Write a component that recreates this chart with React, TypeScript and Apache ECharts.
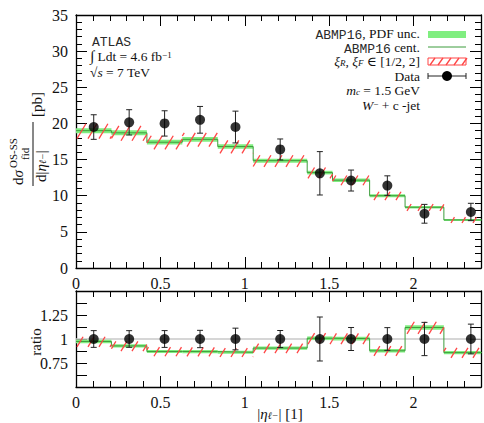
import React, { useEffect, useRef } from 'react';
import * as echarts from 'echarts';

// ---------- data ----------
const binEdges = [0, 0.21, 0.42, 0.63, 0.84, 1.05, 1.37, 1.52, 1.74, 1.95, 2.18, 2.5];
const dataValues = [19.5, 20.15, 20.0, 20.5, 19.5, 16.4, 13.1, 12.1, 11.4, 7.5, 7.75];
const dataErrors = [1.7, 1.75, 1.75, 1.85, 2.2, 1.45, 3.0, 1.45, 1.35, 1.3, 1.2];
const theoryCentral = [19.0, 18.7, 17.4, 17.8, 16.8, 14.85, 13.2, 12.15, 10.0, 8.4, 6.65];
const pdfUnc = [0.35, 0.35, 0.33, 0.33, 0.32, 0.28, 0.25, 0.24, 0.2, 0.17, 0.14];
const scaleUp = [0.95, 0.95, 0.9, 0.9, 0.85, 0.75, 0.7, 0.65, 0.55, 0.45, 0.38];
const scaleDown = [1.1, 1.1, 1.0, 1.0, 0.95, 0.85, 0.8, 0.7, 0.6, 0.5, 0.42];
const xTickLabels = ['0', '0.5', '1', '1.5', '2'];
const yTickLabels = ['0', '5', '10', '15', '20', '25', '30', '35'];
const ratioTickLabels = ['0.75', '1', '1.25'];

const SERIF = '"Liberation Serif", "DejaVu Serif", serif';
const MONO = '"Liberation Mono", "DejaVu Sans Mono", monospace';
const GREEN = '#80ee80';
const DGREEN = '#3c9c3c';
const RED = '#ff4545';

const fmt = (v: number) => String(Math.round(v * 1000) / 1000);

const bandRender = (fill: string) => (params: any, api: any) => {
  const cs = params.coordSys;
  const a = api.coord([api.value(0), api.value(3)]);
  const b = api.coord([api.value(1), api.value(2)]);
  const left = Math.max(a[0], cs.x);
  const right = Math.min(b[0], cs.x + cs.width);
  if (right <= left) return null;
  return {
    type: 'rect',
    shape: { x: left, y: a[1], width: right - left, height: b[1] - a[1] },
    style: { fill },
  };
};

const hatchRender = (params: any, api: any) => {
  const cs = params.coordSys;
  const a = api.coord([api.value(0), api.value(3)]);
  const b = api.coord([api.value(1), api.value(2)]);
  const left = Math.max(a[0], cs.x);
  const right = Math.min(b[0], cs.x + cs.width);
  if (right <= left) return null;
  const top = a[1];
  const bot = b[1];
  const h = bot - top;
  const dx = h * 0.6;
  const step = 11;
  const children: any[] = [];
  for (let xa = Math.floor((left - dx) / step) * step; xa < right; xa += step) {
    let x1 = xa, y1 = bot, x2 = xa + dx, y2 = top;
    if (x2 <= left) continue;
    if (x1 < left) { const t = (left - xa) / dx; x1 = left; y1 = bot - t * h; }
    if (x2 > right) { const t = (right - xa) / dx; x2 = right; y2 = bot - t * h; }
    children.push({ type: 'line', shape: { x1, y1, x2, y2 }, style: { stroke: RED, lineWidth: 1.3 } });
  }
  return { type: 'group', children };
};

const errRender = (params: any, api: any) => {
  const x = api.value(0), y = api.value(1), e = api.value(2);
  const p1 = api.coord([x, y + e]);
  const p2 = api.coord([x, y - e]);
  const cap = 3;
  const st = { stroke: '#222', lineWidth: 1 };
  return {
    type: 'group',
    children: [
      { type: 'line', shape: { x1: p1[0], y1: p1[1], x2: p2[0], y2: p2[1] }, style: st },
      { type: 'line', shape: { x1: p1[0] - cap, y1: p1[1], x2: p1[0] + cap, y2: p1[1] }, style: st },
      { type: 'line', shape: { x1: p2[0] - cap, y1: p2[1], x2: p2[0] + cap, y2: p2[1] }, style: st },
    ],
  };
};

const xAxisDef = (gridIndex: number, position: string, showLabel: boolean) => ({
  type: 'value', gridIndex, position, min: 0, max: 2.4, interval: 0.5,
  axisLine: { show: true, onZero: false, lineStyle: { color: '#000', width: 1.3 } },
  axisTick: { show: true, inside: true, length: 11, lineStyle: { color: '#000', width: 1 } },
  minorTick: { show: true, splitNumber: 5, length: 6, lineStyle: { color: '#000', width: 1 } },
  splitLine: { show: false }, minorSplitLine: { show: false },
  axisLabel: {
    show: showLabel, margin: 7, fontFamily: SERIF, fontSize: 16, color: '#111',
    formatter: (v: number) => (xTickLabels.includes(fmt(v)) ? fmt(v) : ''),
  },
});

const yAxisDef = (gridIndex: number, position: string, showLabel: boolean, top: boolean) => ({
  type: 'value', gridIndex, position,
  min: top ? 0 : 0.5, max: top ? 35 : 1.5, interval: top ? 5 : 0.125,
  axisLine: { show: true, onZero: false, lineStyle: { color: '#000', width: 1.3 } },
  axisTick: { show: true, inside: true, length: 11, lineStyle: { color: '#000', width: 1 } },
  minorTick: { show: top, splitNumber: 5, length: 6, lineStyle: { color: '#000', width: 1 } },
  splitLine: { show: false }, minorSplitLine: { show: false },
  axisLabel: {
    show: showLabel, margin: 8, fontFamily: SERIF, fontSize: 16, color: '#111',
    formatter: (v: number) => {
      const s = fmt(v);
      return (top ? yTickLabels : ratioTickLabels).includes(s) ? s : '';
    },
  },
});

const base = (size: number, extra: any = {}) => ({ fontFamily: SERIF, fontSize: size, fill: '#111', lineHeight: 12, verticalAlign: 'middle', ...extra });
const richSet = {
  r: base(13.5),
  big: base(15),
  i: base(13.5, { fontStyle: 'italic' }),
  m: base(13, { fontFamily: MONO, fill: '#2a2a2a', lineHeight: 10, padding: [4, 0, 0, 0] }),
  sub: base(9, { lineHeight: 6, verticalAlign: 'bottom' }),
  subi: base(9, { lineHeight: 6, verticalAlign: 'bottom', fontStyle: 'italic' }),
  sup: base(9, { lineHeight: 5, verticalAlign: 'top' }),
};
const richAxis = {
  r: base(15),
  i: base(15, { fontStyle: 'italic' }),
  subi: base(10, { lineHeight: 6, verticalAlign: 'bottom', fontStyle: 'italic' }),
};

const txt = (x: number, y: number, text: string, align: string = 'right', rich: any = richSet) => ({
  type: 'text', x, y, z: 50,
  style: { text, rich, align, verticalAlign: 'middle' },
});

export default function App() {
  const ref = useRef<HTMLDivElement>(null);
  useEffect(() => {
    if (!ref.current) return;
    const chart = echarts.init(ref.current, null, { renderer: 'svg' });
    const nb = dataValues.length;
    const centers: number[] = [];
    for (let i = 0; i < nb; i++) centers.push((binEdges[i] + binEdges[i + 1]) / 2);

    const pdfTop = theoryCentral.map((c, i) => [binEdges[i], binEdges[i + 1], c - pdfUnc[i], c + pdfUnc[i]]);
    const scTop = theoryCentral.map((c, i) => [binEdges[i], binEdges[i + 1], c - scaleDown[i], c + scaleUp[i]]);
    const cenTop = theoryCentral.map((c, i) => [binEdges[i], c]).concat([[binEdges[nb], theoryCentral[nb - 1]]]);
    const ptsTop = dataValues.map((d, i) => [centers[i], d]);
    const errTop = dataValues.map((d, i) => [centers[i], d, dataErrors[i]]);

    const pdfR = theoryCentral.map((c, i) => [binEdges[i], binEdges[i + 1], (c - pdfUnc[i]) / dataValues[i], (c + pdfUnc[i]) / dataValues[i]]);
    const scR = theoryCentral.map((c, i) => [binEdges[i], binEdges[i + 1], (c - scaleDown[i]) / dataValues[i], (c + scaleUp[i]) / dataValues[i]]);
    const cenR = theoryCentral.map((c, i) => [binEdges[i], c / dataValues[i]]).concat([[binEdges[nb], theoryCentral[nb - 1] / dataValues[nb - 1]]]);
    const ptsR = dataValues.map((d, i) => [centers[i], 1]);
    const errR = dataValues.map((d, i) => [centers[i], 1, dataErrors[i] / d]);

    const panel = (xi: number, yi: number, pdf: any[], sc: any[], cen: any[], pts: any[], err: any[]) => [
      { type: 'custom', xAxisIndex: xi, yAxisIndex: yi, renderItem: bandRender(GREEN), data: pdf, encode: { x: [0, 1], y: [2, 3] }, z: 2, clip: true, silent: true },
      { type: 'line', xAxisIndex: xi, yAxisIndex: yi, step: 'end', data: cen, symbol: 'none', lineStyle: { color: DGREEN, width: 1 }, z: 3, clip: true, silent: true },
      { type: 'custom', xAxisIndex: xi, yAxisIndex: yi, renderItem: hatchRender, data: sc, encode: { x: [0, 1], y: [2, 3] }, z: 4, clip: true, silent: true },
      { type: 'custom', xAxisIndex: xi, yAxisIndex: yi, renderItem: errRender, data: err, encode: { x: 0, y: 1 }, z: 5, silent: true },
      { type: 'scatter', xAxisIndex: xi, yAxisIndex: yi, data: pts, symbol: 'circle', symbolSize: 10, itemStyle: { color: '#000' }, z: 6, silent: true },
    ];

    // legend hatch lines
    const hatchLegend: any[] = [];
    for (let k = 0; k < 5; k++) {
      const x0 = 430 + k * 8;
      hatchLegend.push({ type: 'line', z: 50, shape: { x1: x0, y1: 65, x2: x0 + 5, y2: 58 }, style: { stroke: RED, lineWidth: 1.3 } });
    }

    const option: any = {
      animation: false,
      backgroundColor: '#fff',
      grid: [
        { left: 76, right: -2, top: 15, height: 253 },
        { left: 76, right: -2, top: 291, height: 96 },
      ],
      xAxis: [
        xAxisDef(0, 'bottom', true),
        xAxisDef(0, 'top', false),
        xAxisDef(1, 'bottom', true),
        xAxisDef(1, 'top', false),
      ],
      yAxis: [
        yAxisDef(0, 'left', true, true),
        yAxisDef(0, 'right', false, true),
        yAxisDef(1, 'left', true, false),
        yAxisDef(1, 'right', false, false),
      ],
      series: [
        { type: 'line', xAxisIndex: 2, yAxisIndex: 2, data: [[0, 1], [2.4, 1]], symbol: 'none', lineStyle: { color: '#c8c8c8', width: 1.5 }, z: 1, silent: true },
        ...panel(0, 0, pdfTop, scTop, cenTop, ptsTop, errTop),
        ...panel(2, 2, pdfR, scR, cenR, ptsR, errR),
      ],
      graphic: [
        // left info block
        txt(92, 40, '{m|ATLAS}', 'left'),
        txt(90, 56, '{big|∫}{r| Ldt = 4.6 fb}{sup|−1}', 'left'),
        txt(90, 72, '{r|√}{i|s}{r| = 7 TeV}', 'left'),
        // legend
        txt(420, 33, '{m|ABMP16}{r|, PDF unc.}'),
        { type: 'rect', z: 50, shape: { x: 428, y: 31, width: 38, height: 7 }, style: { fill: GREEN } },
        txt(420, 47, '{m|ABMP16}{r| cent.}'),
        { type: 'line', z: 50, shape: { x1: 428, y1: 47, x2: 466, y2: 47 }, style: { stroke: DGREEN, lineWidth: 1 } },
        txt(420, 61.5, '{i|ξ}{subi|R}{r|, }{i|ξ}{subi|F}{r| ∈ [1/2, 2]}'),
        { type: 'rect', z: 50, shape: { x: 428, y: 58, width: 38, height: 7 }, style: { fill: 'none', stroke: RED, lineWidth: 1 } },
        ...hatchLegend,
        txt(420, 76, '{r|Data}'),
        { type: 'line', z: 50, shape: { x1: 428, y1: 76, x2: 466, y2: 76 }, style: { stroke: '#222', lineWidth: 1 } },
        { type: 'line', z: 50, shape: { x1: 428, y1: 73, x2: 428, y2: 79 }, style: { stroke: '#222', lineWidth: 1 } },
        { type: 'line', z: 50, shape: { x1: 466, y1: 73, x2: 466, y2: 79 }, style: { stroke: '#222', lineWidth: 1 } },
        { type: 'circle', z: 50, shape: { cx: 447, cy: 76, r: 5 }, style: { fill: '#000' } },
        txt(420, 90, '{i|m}{subi|c}{r| = 1.5 GeV}'),
        txt(420, 105, '{i|W}{sup|−}{r| + c -jet}'),
        // y-axis title (rotated)
        {
          type: 'group', x: 33, y: 186, rotation: Math.PI / 2, z: 50,
          children: [
            { type: 'text', x: 1, y: -15, style: { text: '{r|d}{i|σ}', rich: richAxis, align: 'left', verticalAlign: 'middle' } },
            { type: 'text', x: 18, y: -20, style: { text: 'OS-SS', fontFamily: SERIF, fontSize: 11, fill: '#111', align: 'left', verticalAlign: 'middle' } },
            { type: 'text', x: 26, y: -8, style: { text: 'fid', fontFamily: SERIF, fontSize: 11, fill: '#111', align: 'left', verticalAlign: 'middle' } },
            { type: 'line', shape: { x1: 0, y1: 0, x2: 64, y2: 0 }, style: { stroke: '#111', lineWidth: 1 } },
            { type: 'text', x: 4, y: 8, style: { text: '{r|d|}{i|η}{subi|ℓ−}{r||}', rich: richAxis, align: 'left', verticalAlign: 'middle' } },
            { type: 'text', x: 69, y: 4, style: { text: '[pb]', fontFamily: SERIF, fontSize: 15, fill: '#111', align: 'left', verticalAlign: 'middle' } },
          ],
        },
        // ratio title
        {
          type: 'text', x: 36, y: 342, rotation: Math.PI / 2, z: 50,
          style: { text: 'ratio', fontFamily: SERIF, fontSize: 15, fill: '#111', align: 'center', verticalAlign: 'middle' },
        },
        // x-axis title
        txt(280, 414, '{r||}{i|η}{subi|ℓ−}{r|| [1]}', 'center', richAxis),
      ],
    };
    chart.setOption(option);
    return () => chart.dispose();
  }, []);
  return <div ref={ref} style={{ position: 'absolute', left: 0, top: 0, width: 484, height: 423 }} />;
}
